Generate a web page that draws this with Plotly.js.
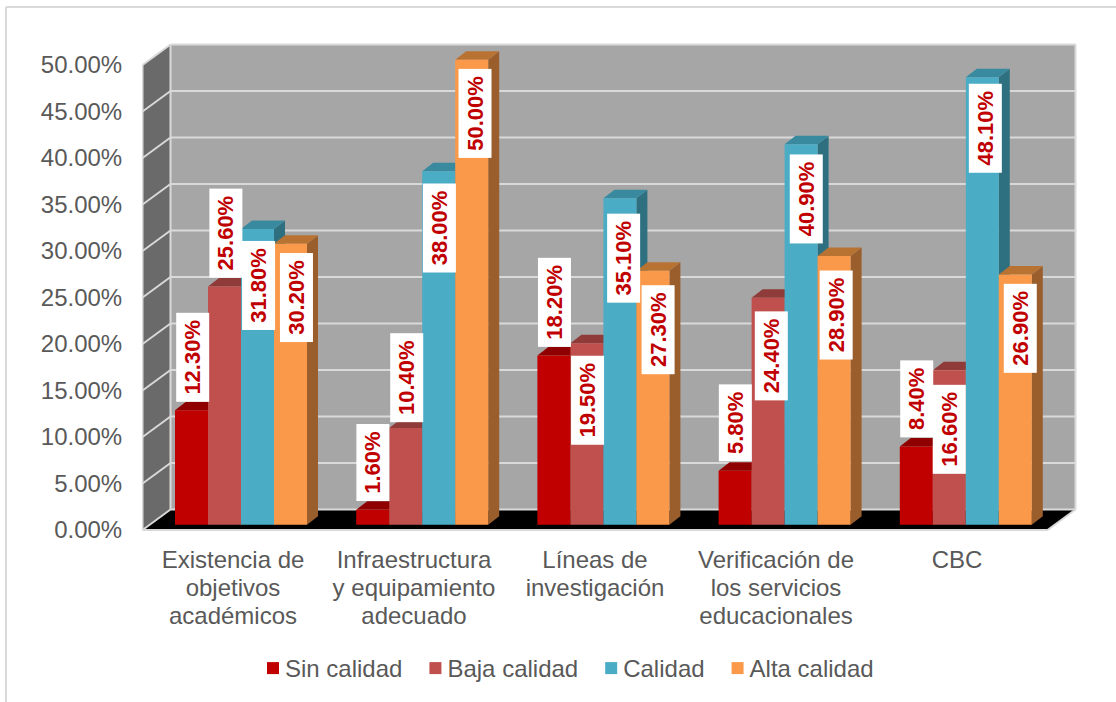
<!DOCTYPE html>
<html>
<head>
<meta charset="utf-8">
<script src="https://cdn.plot.ly/plotly-3.0.1.min.js"></script>
<style>html,body{margin:0;padding:0;background:#fff}#chart{width:1116px;height:702px}</style>
</head>
<body>
<div id="chart"></div>
<script>
const categories = ["Existencia de<br>objetivos<br>académicos","Infraestructura<br>y equipamiento<br>adecuado","Líneas de<br>investigación","Verificación de<br>los servicios<br>educacionales","CBC"];
const sinCalidad = [12.3, 1.6, 18.2, 5.8, 8.4];
const bajaCalidad = [25.6, 10.4, 19.5, 24.4, 16.6];
const calidad = [31.8, 38.0, 35.1, 40.9, 48.1];
const altaCalidad = [30.2, 50.0, 27.3, 28.9, 26.9];
const seriesNames = ["Sin calidad","Baja calidad","Calidad","Alta calidad"];
const frontColors = ["#C00000","#C0504D","#4BACC6","#FA994A"];
const topColors = ["#8F0000","#8F3B39","#398A9F","#B87332"];
const sideColors = ["#760000","#763230","#2F7080","#9A5E2C"];
const yTicks = [0,5,10,15,20,25,30,35,40,45,50];
const yTickLabels = ["0.00%","5.00%","10.00%","15.00%","20.00%","25.00%","30.00%","35.00%","40.00%","45.00%","50.00%"];
// hand-placed data labels: px right of the bar; px above the bar top (negative = inside the bar)
const labelShiftX = [[1,0,1,0,0],[1,1,1,3,0],[1,1,4,5.5,3],[6,3,5,2,5]];
const labelShiftY = [[8.5,9,9,9,9],[9,6,-12,-14,-14.7],[-12,-12,-15,-10,-6.6],[-9.2,-9,-14,-15,-9.5]];

const allSeries = [sinCalidad, bajaCalidad, calidad, altaCalidad];
const catIdx = categories.map((_, i) => i);

// pixel geometry of the pseudo-3D box
const W = 1116, H = 702, L = 142, R = 1077, T = 42, B = 532;
const pxY = 9.3, pxX = 181, pxX2 = 181.2;
const zeroBack = 530, zeroBars = 524.7, cx0 = 233, cx0Bars = 241;
const wallDx = 28 / pxX, wallDy = 20.5 / pxY;
const barDx = 11 / pxX2, barDy = 8.5 / pxY;
const barW = 33 / pxX2;

const xMin = -0.5, xMax = 4.5; // front floor edge, in categories
const shapes = [];
const poly = (ref, pts, fill) => shapes.push({
  type:'path', xref:ref[0], yref:ref[1], layer:'below', fillcolor:fill, line:{width:0},
  path:'M' + pts.map(p => p[0] + ',' + p[1]).join('L') + 'Z'
});
const seg = (x0,y0,x1,y1) => shapes.push({type:'line', xref:'x', yref:'y', layer:'below',
  x0, y0, x1, y1, line:{color:'#D9D9D9', width:2}});
const paperX = px => (px - L) / (R - L), paperY = px => (B - px) / (B - T);

// walls and floor
poly(['x','y'], [[xMin+wallDx,wallDy],[xMax+wallDx,wallDy],[xMax+wallDx,50+wallDy],[xMin+wallDx,50+wallDy]], '#A6A6A6');
poly(['x','y'], [[xMin,0],[xMin+wallDx,wallDy],[xMin+wallDx,50+wallDy],[xMin,50]], '#6A6A6A');
poly(['x','y'], [[xMin,0],[xMax,0],[xMax+wallDx,wallDy],[xMin+wallDx,wallDy]], '#000000');
yTicks.forEach(v => {
  seg(xMin, v, xMin+wallDx, v+wallDy);
  seg(xMin+wallDx, v+wallDy, xMax+wallDx, v+wallDy);
});
seg(xMin, 0, xMax, 0);
seg(xMin, 0, xMin, 50);
seg(xMin+wallDx, wallDy, xMin+wallDx, 50+wallDy);
seg(xMax+wallDx, wallDy, xMax+wallDx, 50+wallDy);
seg(xMax, 0, xMax+wallDx, wallDy);

// bar tops and sides, left to right so nearer faces cover farther ones
catIdx.forEach(c => {
  allSeries.forEach((vals, s) => {
    const v = vals[c], x0 = c + (s-2)*barW, x1 = x0 + barW;
    poly(['x2','y2'], [[x1,0],[x1+barDx,barDy],[x1+barDx,v+barDy],[x1,v]], sideColors[s]);
    poly(['x2','y2'], [[x0,v],[x1,v],[x1+barDx,v+barDy],[x0+barDx,v+barDy]], topColors[s]);
  });
});

// outer frame
[[6,7,W,7],[6,7,6,H]].forEach(f => shapes.push({type:'line', xref:'paper', yref:'paper', layer:'below',
  x0:paperX(f[0]), y0:paperY(f[1]), x1:paperX(f[2]), y1:paperY(f[3]), line:{color:'#D9D9D9', width:2}}));

const traces = [{
  x: catIdx, y: catIdx.map(() => 0), type:'scatter', mode:'none', showlegend:false, hoverinfo:'skip', xaxis:'x', yaxis:'y'
}].concat(allSeries.map((vals, s) => ({
  type:'bar', name:seriesNames[s], x:catIdx, y:vals, xaxis:'x2', yaxis:'y2',
  marker:{color:frontColors[s], line:{width:0}}, hoverinfo:'skip', cliponaxis:false
})));

const annotations = [];
allSeries.forEach((vals, s) => vals.forEach((v, c) => {
  const gap = labelShiftY[s][c], text = v.toFixed(2) + '%';
  annotations.push({
    xref:'x2', yref:'y2', x: c + (s-1.5)*barW, y: v,
    text, showarrow:false, textangle:-90,
    font:{family:'"Liberation Sans", Arial, sans-serif', size:22, color:'#C00000', weight:'bold'},
    bgcolor:'#FFFFFF', borderpad:0, borderwidth:0, height:33, width: text.length === 6 ? 89 : 77,
    align:'center', valign:'middle',
    xanchor:'center', yanchor: gap > 0 ? 'bottom' : 'top', xshift: labelShiftX[s][c], yshift: gap
  });
}));

const tickFont = {family:'"Liberation Sans", Arial, sans-serif', size:24, color:'#595959'};
const layout = {
  width:W, height:H, showlegend:true, paper_bgcolor:'#FFFFFF', plot_bgcolor:'rgba(0,0,0,0)',
  margin:{l:L, r:W-R, t:T, b:H-B, pad:0},
  barmode:'group', bargap:1 - 4*barW, bargroupgap:0,
  xaxis:{range:[(L-cx0)/pxX, (R-cx0)/pxX], tickmode:'array', tickvals:catIdx, ticktext:categories,
    tickfont:tickFont, ticks:'outside', ticklen:6, tickcolor:'rgba(0,0,0,0)', tickangle:0,
    showgrid:false, zeroline:false, showline:false, fixedrange:true},
  yaxis:{range:[(zeroBack-B)/pxY, (zeroBack-T)/pxY], tickmode:'array', tickvals:yTicks, ticktext:yTickLabels,
    tickfont:tickFont, ticks:'outside', ticklen:14, tickcolor:'rgba(0,0,0,0)',
    showgrid:false, zeroline:false, showline:false, fixedrange:true},
  xaxis2:{overlaying:'x', range:[(L-cx0Bars)/pxX2, (R-cx0Bars)/pxX2], visible:false, fixedrange:true},
  yaxis2:{overlaying:'y', range:[(zeroBars-B)/pxY, (zeroBars-T)/pxY], visible:false, fixedrange:true},
  shapes, annotations,
  legend:{orientation:'h', xref:'container', yref:'container', x:245/W, xanchor:'left', y:(H-646)/H, yanchor:'top',
    font:tickFont, bgcolor:'rgba(0,0,0,0)'}
};
Plotly.newPlot('chart', traces, layout, {staticPlot:true, displayModeBar:false}).then(() => {
  // swatches sit closer to their text; category lines use the original tighter leading
  document.querySelectorAll('.legendpoints').forEach(g => g.setAttribute('transform','translate(8,0)'));
  document.querySelectorAll('.xtick text tspan.line').forEach(t => {
    const n = parseFloat(t.getAttribute('dy')) / 1.3;
    t.setAttribute('dy', (n * 28 / 24) + 'em');
  });
});
</script>
</body>
</html>
